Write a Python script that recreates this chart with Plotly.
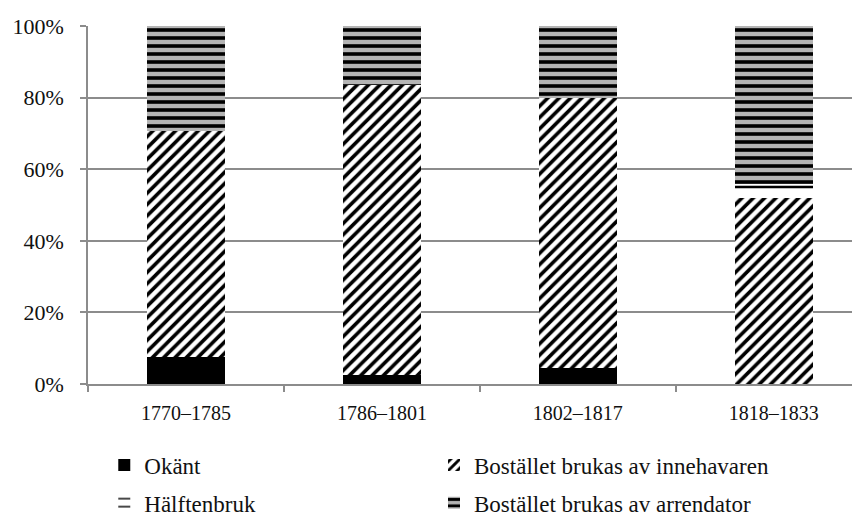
import plotly.graph_objects as go

# Periods and shares (fractions of 1) for each category
periods = ["1770–1785", "1786–1801", "1802–1817", "1818–1833"]
okant = [0.075, 0.025, 0.045, 0.0]
innehavaren = [0.632, 0.810, 0.753, 0.519]
halftenbruk = [0.0, 0.0, 0.0, 0.039]
arrendator = [0.293, 0.165, 0.202, 0.442]

font_family = "Liberation Serif"
axis_grey = "#8c8c8c"

fig = go.Figure()

fig.add_trace(go.Bar(
    x=periods, y=okant, name="Okänt", width=0.4,
    marker=dict(color="black", line=dict(width=0)),
    legend="legend",
))
fig.add_trace(go.Bar(
    x=periods, y=innehavaren, name="Bostället brukas av innehavaren", width=0.4,
    marker=dict(color="white", line=dict(width=0),
                pattern=dict(shape="/", fgcolor="black", bgcolor="white", fgopacity=1,
                             size=8, solidity=0.45, fillmode="overlay")),
    legend="legend2",
))
fig.add_trace(go.Bar(
    x=periods, y=halftenbruk, name="Hälftenbruk", width=0.4,
    marker=dict(color="white", line=dict(width=0),
                pattern=dict(shape="-", fgcolor="black", bgcolor="white", fgopacity=1,
                             size=14, solidity=0.18, fillmode="overlay")),
    legend="legend3",
))
fig.add_trace(go.Bar(
    x=periods, y=arrendator, name="Bostället brukas av arrendator", width=0.4,
    marker=dict(color="#b4b4b4", line=dict(width=0),
                pattern=dict(shape="-", fgcolor="black", bgcolor="#b4b4b4", fgopacity=1,
                             size=8, solidity=0.45, fillmode="overlay")),
    legend="legend4",
))

# one legend per entry so the 2x2 grid can be placed freely
legend_style = dict(
    orientation="h", xanchor="left", yanchor="middle",
    xref="container", yref="container",
    itemwidth=30, bgcolor="rgba(0,0,0,0)",
    font=dict(family=font_family, size=23, color="#111111"),
)
col1, col2 = 0.113, 0.500
row1, row2 = 0.104, 0.030

# the page adds an 8px body margin, so the figure is sized to fit after that offset
fig.update_layout(
    barmode="stack",
    width=852, height=510,
    margin=dict(l=80, r=0, t=18, b=134),
    plot_bgcolor="white", paper_bgcolor="white",
    font=dict(family=font_family, size=20, color="#111111"),
    showlegend=True,
    legend=dict(x=col1, y=row1, **legend_style),
    legend2=dict(x=col2, y=row1, **legend_style),
    legend3=dict(x=col1, y=row2, **legend_style),
    legend4=dict(x=col2, y=row2, **legend_style),
    xaxis=dict(
        range=[-0.5, 3.44], showline=True, linecolor=axis_grey, linewidth=1.5,
        ticks="outside", tickson="boundaries", ticklen=6, tickcolor=axis_grey,
        tickwidth=1.5, showgrid=False, automargin=False, ticklabelstandoff=10,
    ),
    yaxis=dict(
        range=[0, 1], dtick=0.2, tickformat=".0%", showline=True,
        linecolor=axis_grey, linewidth=1.5, ticks="outside", ticklen=6,
        tickcolor=axis_grey, tickwidth=1.5, showgrid=True, gridcolor=axis_grey,
        gridwidth=1.5, zeroline=False, automargin=False, ticklabelstandoff=12,
        tickfont=dict(size=22),
    ),
)

fig.write_html("out.html")
